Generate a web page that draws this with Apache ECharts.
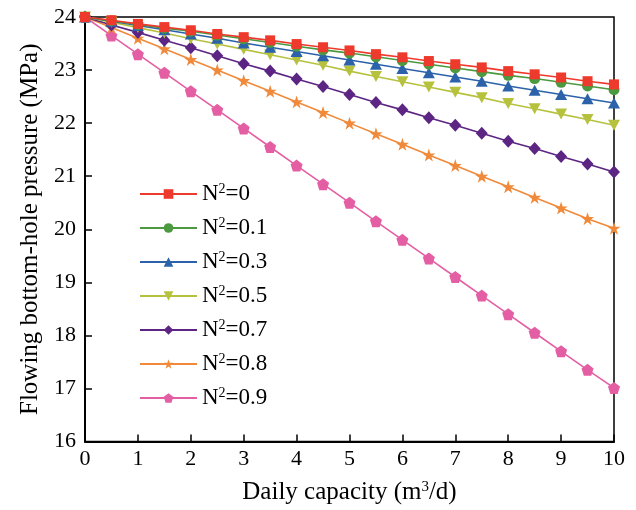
<!DOCTYPE html>
<html>
<head>
<meta charset="utf-8">
<script src="https://cdn.jsdelivr.net/npm/echarts@6/dist/echarts.min.js"></script>
<style>html,body{margin:0;padding:0;background:#fff;}#c{width:636px;height:510px;}</style>
</head>
<body>
<div id="c"></div>
<script>
var xValues = [0,0.5,1,1.5,2,2.5,3,3.5,4,4.5,5,5.5,6,6.5,7,7.5,8,8.5,9,9.5,10];
var seriesNames = ['N2=0','N2=0.1','N2=0.3','N2=0.5','N2=0.7','N2=0.8','N2=0.9'];
var n0  = [24,23.94,23.87,23.81,23.75,23.68,23.62,23.56,23.49,23.43,23.37,23.30,23.24,23.17,23.11,23.05,22.98,22.92,22.86,22.79,22.73];
var n01 = [24,23.93,23.86,23.79,23.73,23.66,23.59,23.52,23.45,23.38,23.32,23.25,23.18,23.11,23.04,22.97,22.90,22.84,22.77,22.70,22.63];
var n03 = [24,23.92,23.84,23.76,23.68,23.60,23.51,23.43,23.35,23.27,23.19,23.11,23.03,22.95,22.87,22.79,22.70,22.62,22.54,22.46,22.38];
var n05 = [24,23.90,23.80,23.70,23.59,23.49,23.39,23.29,23.19,23.09,22.98,22.88,22.78,22.68,22.58,22.48,22.37,22.27,22.17,22.07,21.96];
var n07 = [24,23.85,23.71,23.56,23.42,23.27,23.12,22.98,22.83,22.69,22.54,22.39,22.25,22.10,21.96,21.81,21.66,21.52,21.37,21.23,21.08];
var n08 = [24,23.80,23.60,23.40,23.20,23.00,22.80,22.60,22.40,22.20,22.00,21.80,21.60,21.40,21.20,21.00,20.80,20.60,20.40,20.20,20.02];
var n09 = [24,23.65,23.30,22.95,22.60,22.25,21.90,21.55,21.20,20.85,20.50,20.15,19.80,19.45,19.10,18.75,18.40,18.05,17.70,17.35,17.01];
var allValues = [n0,n01,n03,n05,n07,n08,n09];
var xTicks = [0,1,2,3,4,5,6,7,8,9,10];
var yTicks = [16,17,18,19,20,21,22,23,24];

var colors = ['#ee3a2c','#4b9a3f','#2b62a9','#b6c23d','#5c2483','#f08a3a','#e45ea3'];
var STAR = 'path://M50,0 L61.8,36.2 L100,36.2 L69.1,58.8 L80.9,95.1 L50,72.7 L19.1,95.1 L30.9,58.8 L0,36.2 L38.2,36.2 Z';
var PENT = 'path://M50,0 L100,36.3 L80.9,95.1 L19.1,95.1 L0,36.3 Z';
var symbols = ['rect','circle','triangle','triangle','diamond',STAR,PENT];
var rotates = [0,0,0,180,0,0,0];
var sizes = [[10,10],11,[12,11],[12,11],[12,13],13,[12,12]];
var font = '"Liberation Serif","Times New Roman",serif';

var series = allValues.map(function(vals, i){
  return {
    name: seriesNames[i],
    type: 'line',
    data: xValues.map(function(x, j){ return [x, vals[j]]; }),
    symbol: symbols[i],
    symbolRotate: rotates[i],
    symbolSize: sizes[i],
    showAllSymbol: true,
    clip: false,
    z: 10 - i,
    lineStyle: {color: colors[i], width: 1.6},
    itemStyle: {color: colors[i]},
    emphasis: {disabled: true}
  };
});

var chart = echarts.init(document.getElementById('c'), null, {renderer:'canvas'});
chart.setOption({
  animation: false,
  backgroundColor: '#fff',
  grid: {left: 85, right: 22, top: 17, bottom: 67, show: true, borderColor: '#000', borderWidth: 1.5, backgroundColor: 'transparent'},
  legend: {
    data: seriesNames,
    orient: 'vertical',
    left: 139,
    top: 182,
    padding: 0,
    itemWidth: 57,
    itemHeight: 12,
    itemGap: 10,
    formatter: function(name){ return '{n|N}{s|2}{n|' + name.substring(2) + '}'; },
    textStyle: {
      fontFamily: font, fontSize: 23, color: '#000', lineHeight: 24,
      rich: {
        n: {fontFamily: font, fontSize: 23, color: '#000', lineHeight: 24},
        s: {fontFamily: font, fontSize: 14, color: '#000', lineHeight: 14, verticalAlign: 'top'}
      }
    },
    selectedMode: false
  },
  xAxis: {
    type: 'value', min: 0, max: 10, interval: 1,
    name: '{a|Daily capacity (m}{s|3}{a|/d)}',
    nameLocation: 'middle', nameGap: 38.5,
    nameTextStyle: {
      fontFamily: font, fontSize: 25, color: '#000', lineHeight: 25,
      rich: {
        a: {fontFamily: font, fontSize: 25, color: '#000', lineHeight: 25},
        s: {fontFamily: font, fontSize: 15, color: '#000', lineHeight: 15, verticalAlign: 'top'}
      }
    },
    axisLine: {show: true, onZero: false, lineStyle: {color: '#000', width: 2}},
    axisTick: {show: true, inside: true, length: 7, lineStyle: {color: '#000', width: 1.5}},
    axisLabel: {fontFamily: font, fontSize: 22, color: '#000', margin: 7,
      formatter: function(v){ return xTicks.indexOf(v) >= 0 ? String(v) : ''; }},
    splitLine: {show: false}
  },
  yAxis: {
    type: 'value', min: 16, max: 24, interval: 1,
    name: 'Flowing bottom-hole pressure (MPa)',
    nameLocation: 'middle', nameGap: 42.5,
    nameTextStyle: {fontFamily: font, fontSize: 25, color: '#000'},
    axisLine: {show: true, onZero: false, lineStyle: {color: '#000', width: 2}},
    axisTick: {show: true, inside: true, length: 7, lineStyle: {color: '#000', width: 1.5}},
    axisLabel: {fontFamily: font, fontSize: 22, color: '#000', margin: 9,
      formatter: function(v){ return yTicks.indexOf(v) >= 0 ? String(v) : ''; }},
    splitLine: {show: false}
  },
  series: series
});
</script>
</body>
</html>
